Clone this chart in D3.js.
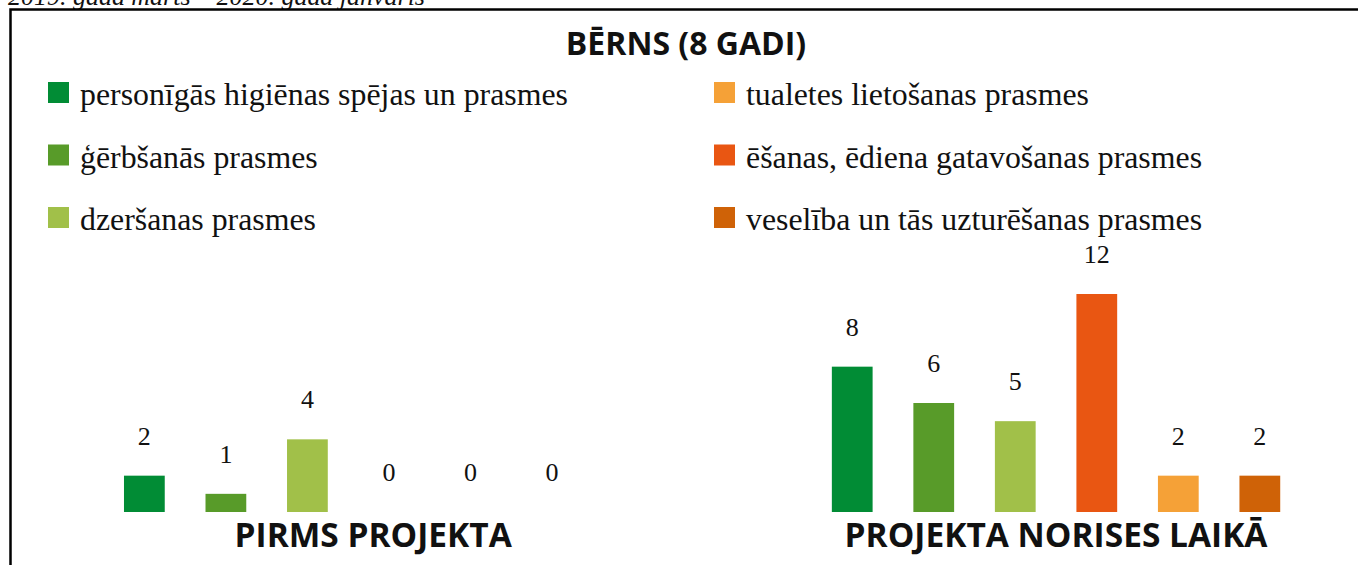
<!DOCTYPE html>
<html>
<head>
<meta charset="utf-8">
<script src="https://cdn.jsdelivr.net/npm/d3@7"></script>
<style>
  html, body { margin: 0; padding: 0; background: #fff; overflow: hidden; }
  svg { display: block; }
</style>
</head>
<body>
<svg id="chart" width="1358" height="565"></svg>
<script>
// ---- data ----
const subtitle = "2019. gada marts – 2020. gada janvāris";
const title = "BĒRNS (8 GADI)";
const groups = ["PIRMS PROJEKTA", "PROJEKTA NORISES LAIKĀ"];
const categories = [
  "personīgās higiēnas spējas un prasmes",
  "ģērbšanās prasmes",
  "dzeršanas prasmes",
  "ēšanas, ēdiena gatavošanas prasmes",
  "tualetes lietošanas prasmes",
  "veselība un tās uzturēšanas prasmes"
];
const valuesBefore = [2, 1, 4, 0, 0, 0];
const valuesDuring = [8, 6, 5, 12, 2, 2];
const colors = ["#018C35", "#589B29", "#A1C049", "#E95612", "#F5A137", "#CF6207"];
// legend layout order (rows of two columns)
const legendLeft = [0, 1, 2];
const legendRight = [4, 3, 5];

const seriesByGroup = [valuesBefore, valuesDuring];

const svg = d3.select("#chart");
const serif = "'Liberation Serif', 'DejaVu Serif', serif";
const sans = "'Open Sans', 'Noto Sans', sans-serif";

// scale a text's font size so that it spans the target width
function fitSize(node, baseSize, target) {
  const w = node.getComputedTextLength();
  return w > 0 ? baseSize * target / w : baseSize;
}

// subtitle (cut off at top, as in the source)
const sub = svg.append("text")
  .attr("x", 8).attr("y", 5)
  .attr("font-family", serif).attr("font-style", "italic")
  .attr("font-size", 24).attr("fill", "#111")
  .text(subtitle);
sub.attr("font-size", fitSize(sub.node(), 24, 417));

// frame
svg.append("rect")
  .attr("x", 10.5).attr("y", 9.5)
  .attr("width", 1400).attr("height", 600)
  .attr("fill", "none").attr("stroke", "#000").attr("stroke-width", 2.5);

// title
const ttl = svg.append("text")
  .attr("x", 686).attr("y", 55)
  .attr("text-anchor", "middle")
  .attr("font-family", sans).attr("font-weight", 700)
  .attr("font-size", 28).attr("fill", "#111")
  .text(title);
ttl.attr("font-size", Math.min(32, fitSize(ttl.node(), 28, 246)));

// legend
const legendRowY = d3.scalePoint().domain([0, 1, 2]).range([82, 207]);
const legendColX = [48, 714];
function drawLegendColumn(list, col) {
  const g = svg.append("g");
  list.forEach((ci, row) => {
    const yy = legendRowY(row);
    g.append("rect")
      .attr("x", legendColX[col]).attr("y", yy)
      .attr("width", 21).attr("height", 21)
      .attr("fill", colors[ci]);
    g.append("text")
      .attr("class", "legtext")
      .attr("x", legendColX[col] + 32).attr("y", yy + 23)
      .attr("font-family", serif).attr("font-size", 28)
      .attr("fill", "#111")
      .text(categories[ci]);
  });
}
drawLegendColumn(legendLeft, 0);
drawLegendColumn(legendRight, 1);
const firstLeg = svg.selectAll("text.legtext").filter(function () { return this.textContent === categories[0]; }).node();
const legSize = fitSize(firstLeg, 28, 488);
svg.selectAll("text.legtext").attr("font-size", legSize);

// scales
const x0 = d3.scaleBand().domain(groups).range([103.6, 1300.6]).paddingInner(0.309).paddingOuter(0);
const x1 = d3.scaleBand().domain(d3.range(categories.length)).range([0, x0.bandwidth()]).paddingInner(0.5).paddingOuter(0.25);
const y = d3.scaleLinear().domain([0, 12]).range([512, 294]);

groups.forEach((gName, gi) => {
  const g = svg.append("g").attr("transform", `translate(${x0(gName)},0)`);
  const vals = seriesByGroup[gi];
  g.selectAll("rect.bar").data(vals).join("rect")
    .attr("class", "bar")
    .attr("x", (d, i) => x1(i))
    .attr("y", d => y(d))
    .attr("width", x1.bandwidth())
    .attr("height", d => y(0) - y(d))
    .attr("fill", (d, i) => colors[i]);
  g.selectAll("text.val").data(vals).join("text")
    .attr("class", "val")
    .attr("x", (d, i) => x1(i) + x1.bandwidth() / 2)
    .attr("y", d => y(d) - 31)
    .attr("text-anchor", "middle")
    .attr("font-family", serif).attr("font-size", 26)
    .attr("fill", "#111")
    .text(d => d);
});

// group labels
const groupLabelShift = [25, 0];
const gl = svg.selectAll("text.glabel").data(groups).join("text")
  .attr("class", "glabel")
  .attr("x", (d, i) => x0(d) + x0.bandwidth() / 2 + groupLabelShift[i])
  .attr("y", 547)
  .attr("text-anchor", "middle")
  .attr("font-family", sans).attr("font-weight", 700)
  .attr("font-size", 30).attr("fill", "#111")
  .text(d => d);
const glSize = Math.min(34, fitSize(gl.nodes()[1], 30, 423));
gl.attr("font-size", glSize);
</script>
</body>
</html>
